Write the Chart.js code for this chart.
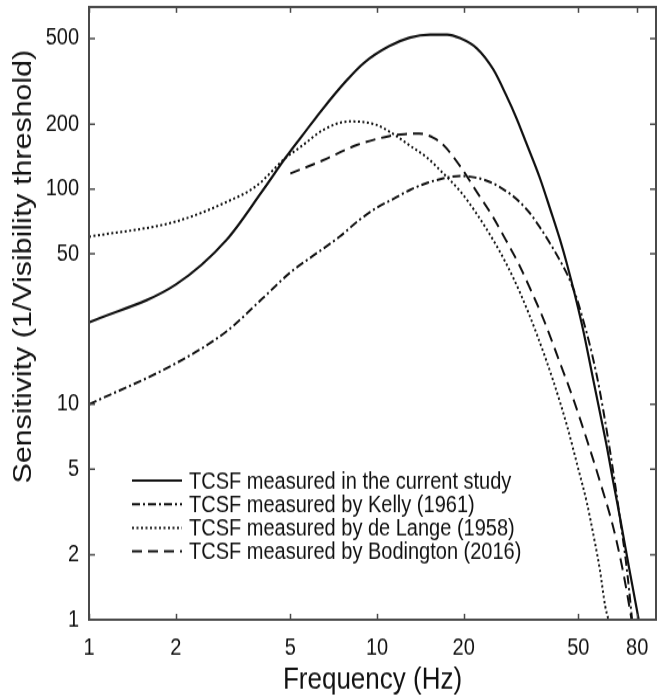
<!DOCTYPE html>
<html>
<head>
<meta charset="utf-8">
<title>TCSF</title>
<script src="https://cdn.jsdelivr.net/npm/chart.js@4.4.1/dist/chart.umd.min.js"></script>
<style>
  html, body { margin: 0; padding: 0; background: #fff; }
  body { width: 658px; height: 698px; }
  /* figure is drawn a bit shorter and stretched to full height */
  #wrap { width: 658px; height: 597px; transform: scaleY(1.1692); transform-origin: 0 0; }
</style>
</head>
<body>
<div id="wrap"><canvas id="tcsf"></canvas></div>
<script>
// temporal contrast sensitivity functions, frequency in Hz
const currentFreq = [1, 2, 3, 4, 4.8, 5.5, 6.5, 7.8, 9, 11, 13, 15.3, 17.5, 19.4, 22.2, 25.3, 28, 30.5, 33, 36.8, 40, 43.2, 45.6, 48.7, 52, 56, 60, 63, 66, 70, 75, 81];
const currentSens = [24, 36, 58, 98, 139, 177, 237, 317, 385, 460, 505, 521, 521, 502, 450, 360, 275, 213, 163, 112, 80, 58, 45, 32, 22, 13.5, 8.6, 6.2, 4.4, 2.9, 1.74, 1.0];

const kellyFreq = [1, 2, 3, 4, 5, 6, 7.4, 8.7, 10, 11.4, 13, 15, 17, 19.4, 22, 25, 28, 31, 34, 37, 40, 43, 46, 49, 52, 55, 58, 61, 64, 67, 70, 73, 75, 76.8];
const kellySens = [10, 15.5, 21.8, 31, 41, 49, 60, 72, 82, 90, 99, 107, 112, 115, 113, 107, 98, 88, 77, 65.5, 55.5, 47, 39.5, 32, 24.5, 18.5, 13.5, 9.4, 6.4, 4.3, 2.85, 1.9, 1.38, 1.0];

const deLangeFreq = [1, 2, 3, 3.8, 4.8, 5.5, 6.5, 8, 9.9, 11.4, 13, 14.9, 17, 19.4, 22, 25.3, 28, 31.4, 35.8, 41.1, 45.6, 50, 53.5, 57, 59.4, 62, 63.6];
const deLangeSens = [60, 70.6, 87, 103, 139, 159, 188, 206, 199, 180, 159, 140, 118, 98, 78, 58, 45.4, 32.9, 21.3, 12.6, 8.0, 5.0, 3.5, 2.3, 1.7, 1.15, 1.0];

const bodingtonFreq = [5, 6.5, 8.5, 11, 12.5, 14, 15.7, 17, 19.4, 22.2, 25, 28, 31, 34, 38, 43, 48, 54, 60, 66, 71, 74, 76.5];
const bodingtonSens = [118, 136, 160, 176, 180, 181, 173, 160, 128, 97, 76, 58, 45, 34.5, 24.5, 15.8, 10.6, 6.6, 4.2, 2.7, 1.75, 1.3, 1.0];

const xTicks = [1, 2, 5, 10, 20, 50, 80];
const yTicks = [1, 2, 5, 10, 50, 100, 200, 500];

const seriesLabels = [
  'TCSF measured in the current study',
  'TCSF measured by Kelly (1961)',
  'TCSF measured by de Lange (1958)',
  'TCSF measured by Bodington (2016)'
];
const xTitle = 'Frequency (Hz)';
const yTitle = 'Sensitivity (1/Visibility threshold)';

const FONT = '"Liberation Sans", Arial, Helvetica, sans-serif';
const INK = '#111';

function toPoints(xs, ys) {
  return xs.map((x, i) => ({ x, y: ys[i] }));
}

function lineSet(label, xs, ys, dash, width) {
  return {
    label,
    data: toPoints(xs, ys),
    borderColor: INK,
    borderWidth: width,
    borderDash: dash,
    pointRadius: 0,
    fill: false,
    cubicInterpolationMode: 'monotone'
  };
}

// box around the plot with inward ticks on every side
const frameTicks = {
  id: 'frameTicks',
  afterDatasetsDraw(chart) {
    const { ctx, chartArea: a, scales: { x, y } } = chart;
    ctx.save();
    ctx.strokeStyle = '#4a4a4a';
    ctx.lineWidth = 2;
    ctx.setLineDash([]);
    ctx.strokeRect(a.left, a.top, a.right - a.left, a.bottom - a.top);
    ctx.lineWidth = 1.5;
    ctx.beginPath();
    x.ticks.forEach(t => {
      const px = Math.round(x.getPixelForValue(t.value)) + 0.5;
      ctx.moveTo(px, a.bottom); ctx.lineTo(px, a.bottom - 5);
      ctx.moveTo(px, a.top); ctx.lineTo(px, a.top + 5);
    });
    y.ticks.forEach(t => {
      const py = y.getPixelForValue(t.value);
      ctx.moveTo(a.left, py); ctx.lineTo(a.left + 6, py);
      ctx.moveTo(a.right, py); ctx.lineTo(a.right - 6, py);
    });
    ctx.stroke();
    ctx.restore();
  }
};

// legend inside the plot (lower left) and the rotated y label
const labels = {
  id: 'labels',
  afterDraw(chart) {
    const { ctx, chartArea: a } = chart;
    const x0 = a.left + 43, x1 = a.left + 93, tx = a.left + 100;
    const y0 = a.bottom - 119, step = 20.2;
    ctx.save();
    ctx.font = '20px ' + FONT;
    ctx.textBaseline = 'middle';
    ctx.fillStyle = INK;
    chart.data.datasets.forEach((ds, i) => {
      const yy = y0 + i * step;
      ctx.strokeStyle = ds.borderColor;
      ctx.lineWidth = ds.borderWidth;
      ctx.setLineDash(ds.borderDash);
      ctx.beginPath();
      ctx.moveTo(x0, yy);
      ctx.lineTo(x1, yy);
      ctx.stroke();
      ctx.setLineDash([]);
      ctx.fillText(ds.label, tx, yy + 1);
    });

    ctx.translate(24, 228);
    ctx.rotate(-Math.PI / 2);
    ctx.font = '26px ' + FONT;
    ctx.textAlign = 'center';
    ctx.fillText(yTitle, 0, 0);
    ctx.restore();
  }
};

new Chart(document.getElementById('tcsf'), {
  type: 'line',
  data: {
    datasets: [
      lineSet(seriesLabels[0], currentFreq, currentSens, [], 2.2),
      lineSet(seriesLabels[1], kellyFreq, kellySens, [8, 3, 2, 3], 2),
      lineSet(seriesLabels[2], deLangeFreq, deLangeSens, [2, 2.5], 2),
      lineSet(seriesLabels[3], bodingtonFreq, bodingtonSens, [10, 6], 2)
    ]
  },
  options: {
    responsive: true,
    maintainAspectRatio: false,
    animation: false,
    layout: { padding: { top: 6, right: 2, left: 0, bottom: 0 } },
    plugins: {
      legend: { display: false },
      tooltip: { enabled: false }
    },
    scales: {
      x: {
        type: 'logarithmic',
        min: 1,
        max: 93,
        afterBuildTicks: s => { s.ticks = xTicks.map(v => ({ value: v })); },
        afterFit: s => {
          s.height = 67;
          s.paddingLeft = 0;
          s.paddingRight = 0;
        },
        grid: { display: false, drawTicks: false },
        border: { display: false },
        ticks: {
          autoSkip: false,
          maxRotation: 0,
          padding: 12,
          color: INK,
          font: { family: FONT, size: 20 },
          callback: v => String(v)
        },
        title: {
          display: true,
          text: xTitle,
          color: INK,
          font: { family: FONT, size: 26 },
          padding: { top: 0, bottom: 0 }
        }
      },
      y: {
        type: 'logarithmic',
        min: 1,
        max: 700,
        afterBuildTicks: s => { s.ticks = yTicks.map(v => ({ value: v })); },
        afterFit: s => {
          s.width = 89;
          s.paddingTop = 0;
          s.paddingBottom = 0;
        },
        grid: { display: false, drawTicks: false },
        border: { display: false },
        ticks: {
          autoSkip: false,
          padding: 10,
          color: INK,
          font: { family: FONT, size: 20 },
          callback: v => String(v)
        }
      }
    }
  },
  plugins: [frameTicks, labels]
});
</script>
</body>
</html>
